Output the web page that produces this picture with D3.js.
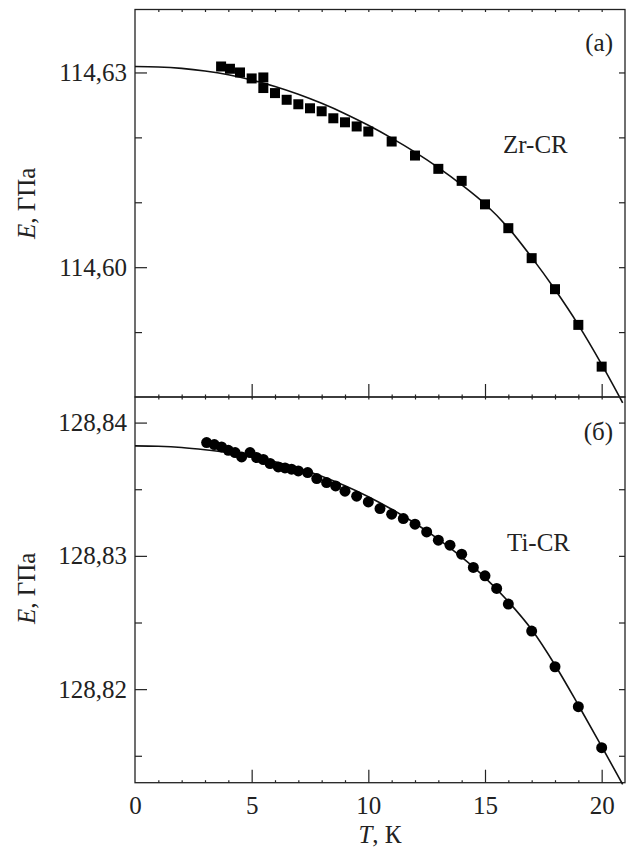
<!DOCTYPE html>
<html>
<head>
<meta charset="utf-8">
<script src="https://cdn.jsdelivr.net/npm/d3@7"></script>
<style>
  body { margin: 0; background: #fff; }
</style>
</head>
<body>
<div id="chart"></div>
<script>
// measured points, Zr-CR (top panel)
var zrT = [3.69, 4.07, 4.5, 5.0, 5.5, 5.5, 6.0, 6.5, 7.0, 7.5, 8.0, 8.5, 9.0, 9.5, 10, 11, 12, 13, 14, 15, 16, 17, 18, 19, 20]
var zrE = [114.63092, 114.63057, 114.63000, 114.62908, 114.62923, 114.62760, 114.62682, 114.62579, 114.62510, 114.62448,
           114.62402, 114.62294, 114.62232, 114.62168, 114.62090, 114.61936, 114.61720, 114.61515, 114.61330, 114.60968,
           114.60601, 114.60139, 114.59661, 114.59111, 114.58468]
// fitted line, Zr-CR
var zrFitT = [0, 1, 2, 3, 4, 5, 6, 7, 8, 9, 10, 11, 12, 13, 14, 15, 16, 17, 18, 19, 20, 20.9]
var zrFitE = [114.63092, 114.63085, 114.63063, 114.63023, 114.62965, 114.62884, 114.62784, 114.62664, 114.62524, 114.62365,
              114.62186, 114.61989, 114.61773, 114.61534, 114.61269, 114.60973, 114.60606, 114.60151, 114.59655, 114.59111,
              114.58502, 114.57911]

// measured points, Ti-CR (bottom panel)
var tiT = [3.07, 3.4, 3.71, 4.0, 4.29, 4.57, 4.93, 5.21, 5.5, 5.79, 6.14, 6.43, 6.71, 7.0, 7.4, 7.79, 8.21, 8.6, 9.0, 9.5,
           10, 10.5, 11, 11.5, 12, 12.5, 13, 13.5, 14, 14.5, 15, 15.5, 16, 17, 18, 19, 20]
var tiE = [128.83850, 128.83835, 128.83817, 128.83792, 128.83775, 128.83742, 128.83775, 128.83738, 128.83723, 128.83693,
           128.83667, 128.83660, 128.83650, 128.83637, 128.83625, 128.83580, 128.83550, 128.83525, 128.83485, 128.83448,
           128.83405, 128.83355, 128.83313, 128.83280, 128.83238, 128.83180, 128.83118, 128.83080, 128.83013, 128.82913,
           128.82850, 128.82756, 128.82638, 128.82436, 128.82168, 128.81868, 128.81561]
var tiFitT = [0, 1, 2, 3, 4, 5, 6, 7, 8, 9, 10, 11, 12, 13, 14, 15, 16, 17, 18, 19, 20, 20.9]
var tiFitE = [128.83825, 128.83822, 128.83813, 128.83796, 128.83774, 128.83744, 128.83706, 128.83657, 128.83597, 128.83526,
              128.83444, 128.83350, 128.83245, 128.83125, 128.82990, 128.82837, 128.82657, 128.82447, 128.82181, 128.81881,
              128.81570, 128.81286]

var xMajor = [0, 5, 10, 15, 20]
var xMinor = [1, 2, 3, 4, 6, 7, 8, 9, 11, 12, 13, 14, 16, 17, 18, 19]
var topMajor = [114.60, 114.63]
var topMinor = [114.59, 114.61, 114.62]
var botMajor = [128.82, 128.83, 128.84]
var botMinor = [128.815, 128.825, 128.835]

var width = 630, height = 847
var left = 135, right = 625
var ink = '#222'
var serif = '"Liberation Serif", "Times New Roman", serif'
var fs = 25

var svg = d3.select('#chart').append('svg').attr('width', width).attr('height', height)
    .style('font-family', serif)

var x = d3.scaleLinear().domain([0, 21]).range([left, right])

var panels = [
    {top: 9.5, bottom: 397, domain: [114.58, 114.6397], major: topMajor, minor: topMinor,
     T: zrT, E: zrE, fitT: zrFitT, fitE: zrFitE, shape: 'square', tag: '(a)', name: 'Zr-CR',
     tagY: 51, nameY: 153, nameX: 503, labelShift: 0},
    {top: 397, bottom: 782.7, domain: [128.81298, 128.84192], major: botMajor, minor: botMinor,
     T: tiT, E: tiE, fitT: tiFitT, fitE: tiFitE, shape: 'circle', tag: '(б)', name: 'Ti-CR',
     tagY: 440, nameY: 551, nameX: 507, labelShift: -1.5}
]

var fmt = function(d){ return d3.format('.2f')(d).replace('.', ',') }

function styleAxis(g){
    g.attr('font-family', null).attr('font-size', null)
    g.select('.domain').remove()
    g.selectAll('line').attr('stroke', ink).attr('stroke-width', 1.2)
    g.selectAll('text').style('font-size', fs + 'px').style('font-family', serif).attr('fill', ink)
}

function addText(x0, y0, str){
    return svg.append('text').attr('x', x0).attr('y', y0)
        .style('font-size', fs + 'px').style('font-family', serif).attr('fill', ink).text(str)
}

panels.forEach(function(p, idx){
    var y = d3.scaleLinear().domain(p.domain).range([p.bottom, p.top])

    // left axis, labels + inward ticks
    svg.append('g').attr('transform', `translate(${left},0)`)
        .call(d3.axisLeft(y).tickValues(p.major).tickSize(-12).tickPadding(8).tickFormat(fmt))
        .call(styleAxis)
    svg.append('g').attr('transform', `translate(${left},0)`)
        .call(d3.axisLeft(y).tickValues(p.minor).tickSize(-7).tickFormat(''))
        .call(styleAxis)
    // right axis, short ticks only
    svg.append('g').attr('transform', `translate(${right},0)`)
        .call(d3.axisRight(y).tickValues(p.major.concat(p.minor)).tickSize(-6).tickFormat(''))
        .call(styleAxis)

    // bottom axis: long major ticks, tiny minor ticks
    var gb = svg.append('g').attr('transform', `translate(0,${p.bottom})`)
        .call(d3.axisBottom(x).tickValues(xMajor.slice(1)).tickSize(-13).tickFormat(idx == 1 ? d3.format('d') : ''))
        .call(styleAxis)
    if (idx == 1){
        svg.append('g').attr('transform', `translate(0,${p.bottom})`)
            .call(d3.axisBottom(x).tickValues([0]).tickSize(0).tickFormat(d3.format('d')))
            .call(styleAxis)
            .selectAll('text').attr('dy', 0).attr('y', 31)
        gb.selectAll('text').attr('dy', 0).attr('y', 31)
    }
    svg.append('g').attr('transform', `translate(0,${p.bottom})`)
        .call(d3.axisBottom(x).tickValues(xMinor).tickSize(-2.5).tickFormat(''))
        .call(styleAxis)
    // top axis: tiny ticks
    svg.append('g').attr('transform', `translate(0,${p.top})`)
        .call(d3.axisTop(x).tickValues(xMinor.concat([5, 10, 15, 20])).tickSize(-2.5).tickFormat(''))
        .call(styleAxis)

    // frame
    svg.append('rect')
        .attr('x', left).attr('y', p.top)
        .attr('width', right - left).attr('height', p.bottom - p.top)
        .attr('fill', 'none').attr('stroke', ink).attr('stroke-width', 1.3)

    // fitted curve
    var fit = p.fitT.map(function(t, i){ return [t, p.fitE[i]] })
    svg.append('path')
        .datum(fit)
        .attr('d', d3.line().x(function(d){ return x(d[0]) }).y(function(d){ return y(d[1]) }).curve(d3.curveMonotoneX))
        .attr('fill', 'none').attr('stroke', '#111').attr('stroke-width', 1.6)

    // points
    var pts = p.T.map(function(t, i){ return {t: t, e: p.E[i]} })
    if (p.shape == 'square'){
        svg.append('g').selectAll('rect').data(pts).enter().append('rect')
            .attr('x', function(d){ return x(d.t) - 5 })
            .attr('y', function(d){ return y(d.e) - 5 })
            .attr('width', 10).attr('height', 10)
            .attr('fill', '#000')
    }
    else {
        svg.append('g').selectAll('circle').data(pts).enter().append('circle')
            .attr('cx', function(d){ return x(d.t) })
            .attr('cy', function(d){ return y(d.e) })
            .attr('r', 5.5)
            .attr('fill', '#000')
    }

    // panel tag and sample name
    addText(613, p.tagY, p.tag).attr('text-anchor', 'end')
    addText(p.nameX, p.nameY, p.name)

    // y label
    var cy = (p.top + p.bottom) / 2 + p.labelShift
    var lab = addText(0, 0, null)
        .attr('x', null).attr('y', null)
        .attr('transform', `translate(35,${cy}) rotate(-90)`)
        .attr('text-anchor', 'middle')
    lab.append('tspan').style('font-style', 'italic').text('E')
    lab.append('tspan').text(', ГПа')
})

// x label
var xl = addText((left + right) / 2, 843, null).attr('text-anchor', 'middle')
xl.append('tspan').style('font-style', 'italic').text('T')
xl.append('tspan').text(', К')
</script>
</body>
</html>
